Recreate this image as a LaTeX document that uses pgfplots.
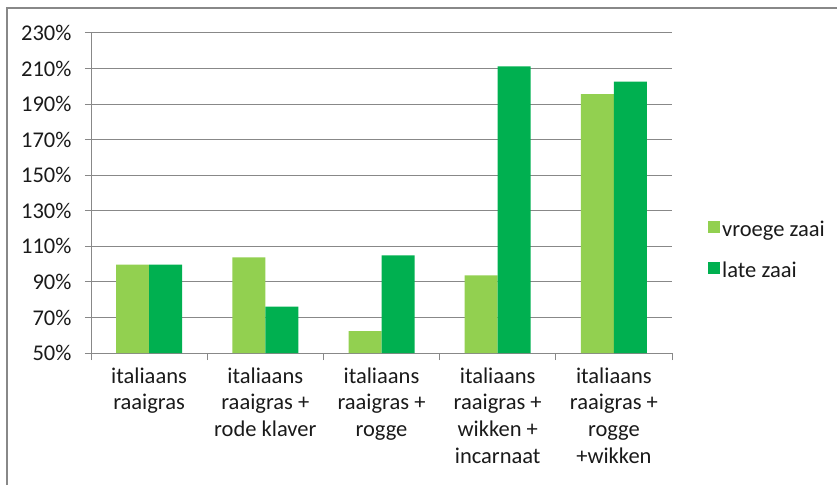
\documentclass[border=0pt]{standalone}
\usepackage{pgfplots}
\pgfplotsset{compat=1.18}
\usepackage{fontspec}
\setmainfont{Carlito}
\definecolor{vroeg}{HTML}{92D050}
\definecolor{laat}{HTML}{00B050}
\definecolor{gridc}{HTML}{888888}
\definecolor{txt}{HTML}{1A1A1A}
\begin{document}
\begin{tikzpicture}[x=1pt,y=1pt]
\useasboundingbox (0,0) rectangle (837,485);
\draw[gridc, line width=2pt] (6.5,0) -- (6.5,476.5) -- (837,476.5);
\begin{axis}[
  at={(91pt,132pt)}, anchor=south west,
  scale only axis, width=581pt, height=320pt,
  ymin=50, ymax=230, ytick={50,70,...,230},
  xmin=-0.5, xmax=4.5,
  xtick={0,1,2,3,4},
  xticklabels={{italiaans\\raaigras},{italiaans\\raaigras +\\rode klaver},{italiaans\\raaigras +\\rogge},{italiaans\\raaigras +\\wikken +\\incarnaat},{italiaans\\raaigras +\\rogge\\+wikken}},
  minor xtick={-0.5,0.5,1.5,2.5,3.5,4.5},
  axis x line*=bottom, axis y line*=left,
  tick align=outside,
  major tick length=6pt, minor tick length=7pt,
  major x tick style={draw=none},
  tick style={gridc, line width=1pt},
  axis line style={gridc, line width=1pt},
  ymajorgrids, grid style={gridc, line width=1pt},
  yticklabel={\pgfmathprintnumber{\tick}\%},
  /pgf/number format/assume math mode=true,
  ticklabel style={font=\fontsize{22.5}{26.8}\selectfont, text=txt},
  yticklabel style={xshift=-10pt},
  xticklabel style={align=center, yshift=-5pt},
  ybar=0pt, bar width=33pt,
  legend style={at={(1,0.322)}, anchor=west, xshift=33pt, draw=none, fill=none,
    font=\fontsize{22.5}{26}\selectfont, text=txt, row sep=20pt,
    legend cell align=left},
  legend image code/.code={\fill[#1] (0pt,-4pt) rectangle (12pt,8pt);},
]
\addplot[fill=vroeg, draw=none] coordinates {(0,99.7) (1,103.8) (2,62.3) (3,93.7) (4,195.6)};
\addplot[fill=laat, draw=none] coordinates {(0,99.7) (1,76.1) (2,104.9) (3,211.2) (4,202.7)};
\legend{vroege zaai, late zaai}
\end{axis}
\end{tikzpicture}
\end{document}
